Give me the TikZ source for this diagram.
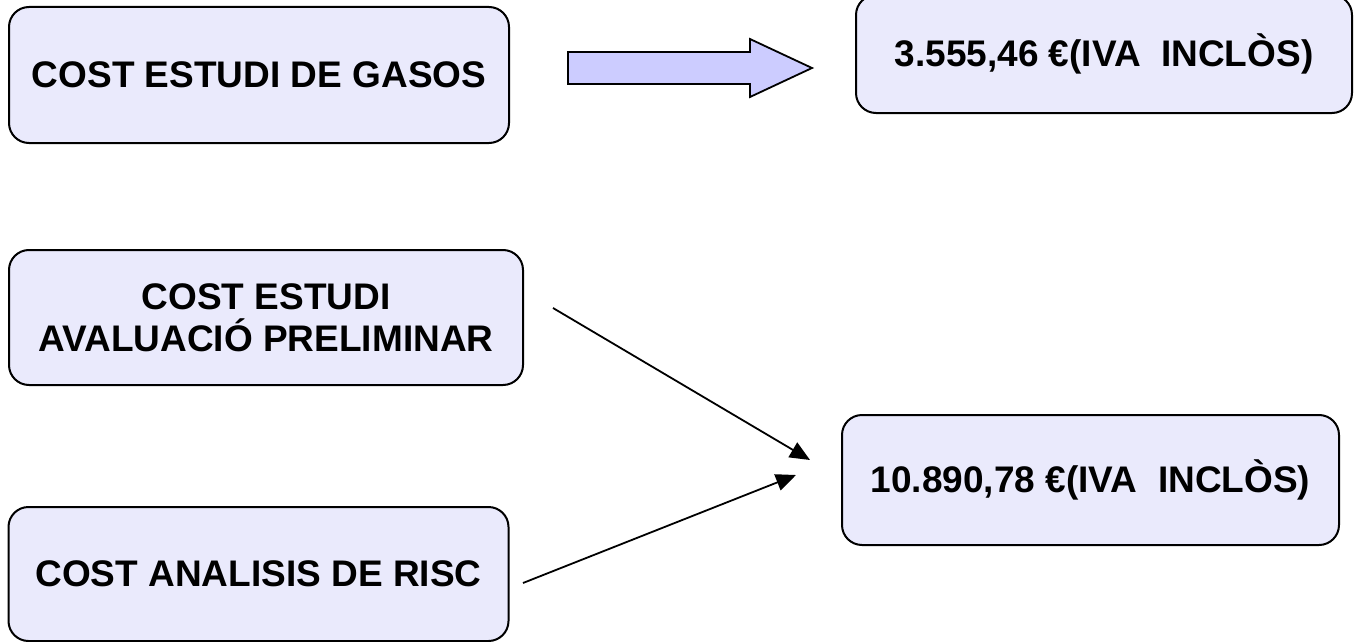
\documentclass[tikz,border=0pt]{standalone}
\usepackage{fontspec}
\setmainfont{Liberation Sans}
\usetikzlibrary{arrows.meta}
\definecolor{boxfill}{HTML}{EAEAFC}
\definecolor{arrowfill}{HTML}{CCCCFF}
\begin{document}
\begin{tikzpicture}[x=1pt,y=-1pt,
  costbox/.style={draw=black, line width=2pt, fill=boxfill, rounded corners=20pt,
    inner sep=0pt, font=\fontsize{37}{42}\selectfont\bfseries, align=center},
  link/.style={line width=1.8pt, -{Triangle[length=20pt,width=17pt]}}]
\useasboundingbox (0,0) rectangle (1354,642);
\node[costbox, minimum width=500pt, minimum height=136pt] (gas) at (259,75) {COST ESTUDI DE GASOS};
\node[costbox, minimum width=496pt, minimum height=118pt] (gascost) at (1104,54) {3.555,46 €(IVA~~INCLÒS)};
\node[costbox, minimum width=514pt, minimum height=135pt] (aval) at (266,317.5) {COST ESTUDI\\AVALUACIÓ PRELIMINAR};
\node[costbox, minimum width=497pt, minimum height=130pt] (total) at (1090.5,480) {10.890,78 €(IVA~~INCLÒS)};
\node[costbox, minimum width=500pt, minimum height=134pt] (risc) at (258.5,574) {COST ANALISIS DE RISC};
% block arrow
\draw[line width=1.8pt, fill=arrowfill, line join=miter]
  (568,52) -- (750,52) -- (750,39) -- (812,68) -- (750,97) -- (750,84) -- (568,84) -- cycle;
% connectors
\coordinate (s1) at (553,308);
\coordinate (e1) at (810,460);
\coordinate (s2) at (523,583);
\coordinate (e2) at (796,475);
\draw[link] (s1) -- (e1);
\draw[link] (s2) -- (e2);
\end{tikzpicture}
\end{document}
